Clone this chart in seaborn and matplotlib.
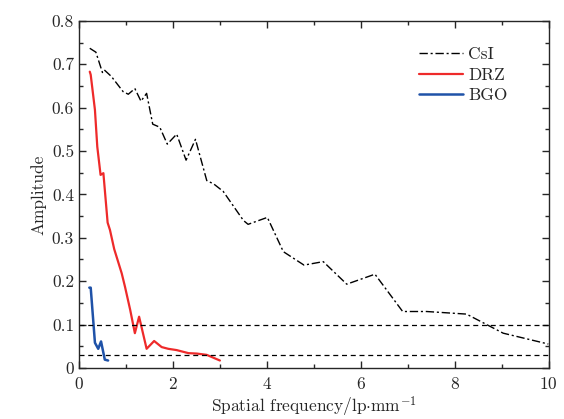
import pandas as pd
import seaborn as sns
import matplotlib.pyplot as plt
from matplotlib.ticker import MultipleLocator, FuncFormatter

# values
csi_x = [0.23, 0.36, 0.50, 0.54, 0.69, 0.94, 1.05, 1.19, 1.32, 1.44, 1.57, 1.72, 1.88, 2.08,
         2.28, 2.48, 2.72, 2.87, 3.07, 3.50, 3.60, 4.01, 4.35, 4.79, 5.20, 5.70, 6.30, 6.89,
         7.40, 8.25, 9.03, 9.99]
csi_y = [0.737, 0.728, 0.681, 0.687, 0.672, 0.637, 0.631, 0.644, 0.615, 0.633, 0.562, 0.555,
         0.516, 0.539, 0.479, 0.527, 0.432, 0.424, 0.407, 0.340, 0.331, 0.347, 0.268, 0.237,
         0.245, 0.193, 0.216, 0.130, 0.130, 0.124, 0.080, 0.055]

drz_x = [0.23, 0.25, 0.34, 0.39, 0.46, 0.52, 0.61, 0.66, 0.75, 0.91, 0.98, 1.09, 1.19, 1.28,
         1.44, 1.60, 1.76, 1.90, 2.08, 2.33, 2.51, 2.72, 3.00]
drz_y = [0.683, 0.676, 0.595, 0.510, 0.445, 0.449, 0.335, 0.318, 0.274, 0.218, 0.187, 0.134,
         0.080, 0.118, 0.044, 0.062, 0.048, 0.044, 0.041, 0.034, 0.033, 0.030, 0.017]

bgo_x = [0.22, 0.25, 0.34, 0.41, 0.47, 0.55, 0.62]
bgo_y = [0.185, 0.185, 0.058, 0.044, 0.061, 0.019, 0.017]

ref_levels = [0.1, 0.03]

sns.set_style('ticks')
plt.rcParams['font.family'] = 'serif'
plt.rcParams['font.serif'] = ['cmr10']
plt.rcParams['mathtext.fontset'] = 'cm'
plt.rcParams['axes.formatter.use_mathtext'] = True
plt.rcParams['font.size'] = 12

fig = plt.figure(figsize=(5.64, 4.19), dpi=100)
ax = fig.add_axes([0.140, 0.122, 0.833, 0.828])

sns.lineplot(x=csi_x, y=csi_y, ax=ax, color='black', lw=1.0, label='CsI',
             dashes=False, linestyle=(0, (6, 2, 1.5, 2)))
sns.lineplot(x=drz_x, y=drz_y, ax=ax, color='#ee2a2a', lw=1.6, label='DRZ')
sns.lineplot(x=bgo_x, y=bgo_y, ax=ax, color='#1f52a8', lw=1.8, label='BGO')

for lv in ref_levels:
    ax.axhline(lv, color='black', lw=0.9, linestyle=(0, (4, 3)))

ax.set_xlim(0, 10)
ax.set_ylim(0, 0.8)
ax.xaxis.set_major_locator(MultipleLocator(2))
ax.xaxis.set_minor_locator(MultipleLocator(1))
ax.yaxis.set_major_locator(MultipleLocator(0.1))
ax.yaxis.set_minor_locator(MultipleLocator(0.05))
ax.yaxis.set_major_formatter(FuncFormatter(lambda v, p: '%g' % round(v, 2)))
ax.tick_params(which='both', direction='in', top=True, right=True, labelsize=12.5)
ax.tick_params(axis='x', pad=6)
ax.tick_params(which='major', length=5, width=1)
ax.tick_params(which='minor', length=3, width=1)
for s in ax.spines.values():
    s.set_linewidth(1.0)

ax.set_xlabel('Spatial frequency/lp$\\cdot$mm$^{-1}$', fontsize=12.5, labelpad=2)
ax.set_ylabel('Amplitude', fontsize=12.5)

ax.legend(loc='upper right', frameon=False, fontsize=12.5, handlelength=2.5,
          handletextpad=0.3, labelspacing=0.3, bbox_to_anchor=(0.945, 0.97))

plt.savefig('out.png', dpi=100)
